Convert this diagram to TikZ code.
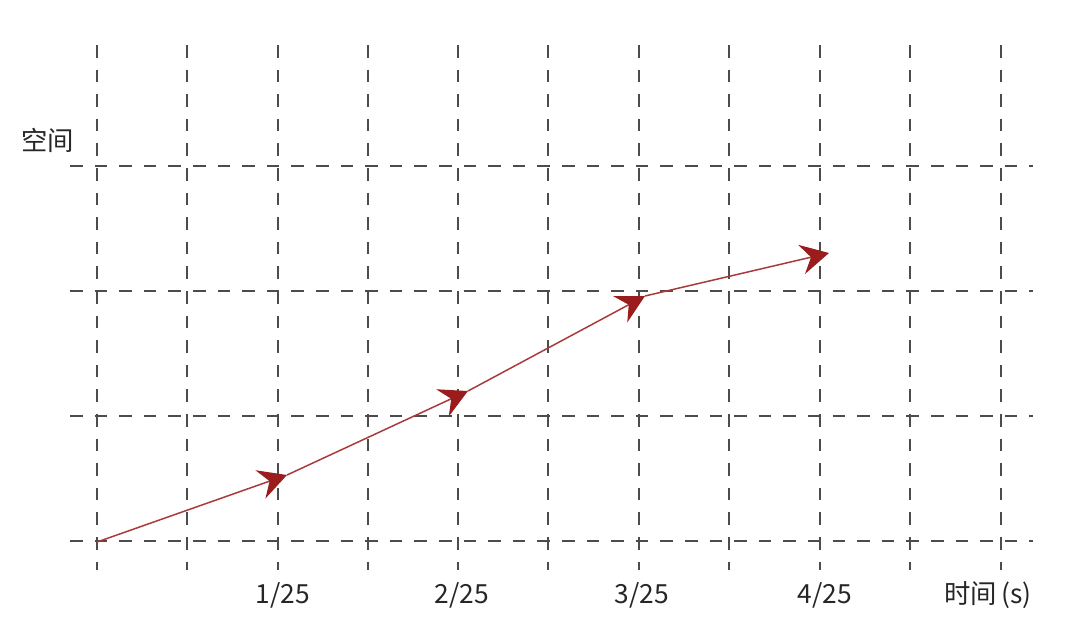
\documentclass[tikz,border=0pt]{standalone}
\usepackage{fontspec}
\setmainfont{Noto Sans CJK SC}
\usepackage{tikz}
\usetikzlibrary{arrows.meta}
\definecolor{pathred}{HTML}{A83A3A}
\definecolor{tipred}{HTML}{9B1C1C}
\tikzstyle{gridline} = [draw=black!70, line width=0.8pt, dash pattern=on 7.2pt off 6.8pt]
\tikzstyle{lbl} = [text=black!85, font=\fontsize{15}{18}\selectfont, inner sep=0pt]
\tikzstyle{move} = [draw=pathred, line width=0.85pt, -{Stealth[length=16pt,width=17pt,inset=5.5pt,fill=tipred,color=tipred]}]

\begin{document}
\begin{tikzpicture}[x=0.02cm, y=-0.02cm]
\useasboundingbox (0,0) rectangle (1080,637);
% grid
\foreach \gx in {97,187,278,368,458,548,639,729,820,910,1001}
    \draw[gridline] (\gx,45) -- (\gx,570);
\foreach \gy in {166,291,416,541}
    \draw[gridline] (70,\gy) -- (1033,\gy);
% axis texts
\node[lbl] (space) at (48,140) {空间};
\node[lbl] (t1) at (283,595) {1/25};
\node[lbl] (t2) at (462,595) {2/25};
\node[lbl] (t3) at (642,595) {3/25};
\node[lbl] (t4) at (825,595) {4/25};
\node[lbl] (time) at (988,595) {时间\,(s)};
% positions at each frame
\coordinate (p0) at (97,542);
\coordinate (p1) at (287,475);
\coordinate (p2) at (468,391);
\coordinate (p3) at (645,296);
\coordinate (p4) at (829,253);
\draw[move] (p0) -- (p1);
\draw[move] (p1) -- (p2);
\draw[move] (p2) -- (p3);
\draw[move] (p3) -- (p4);
\end{tikzpicture}
\end{document}
